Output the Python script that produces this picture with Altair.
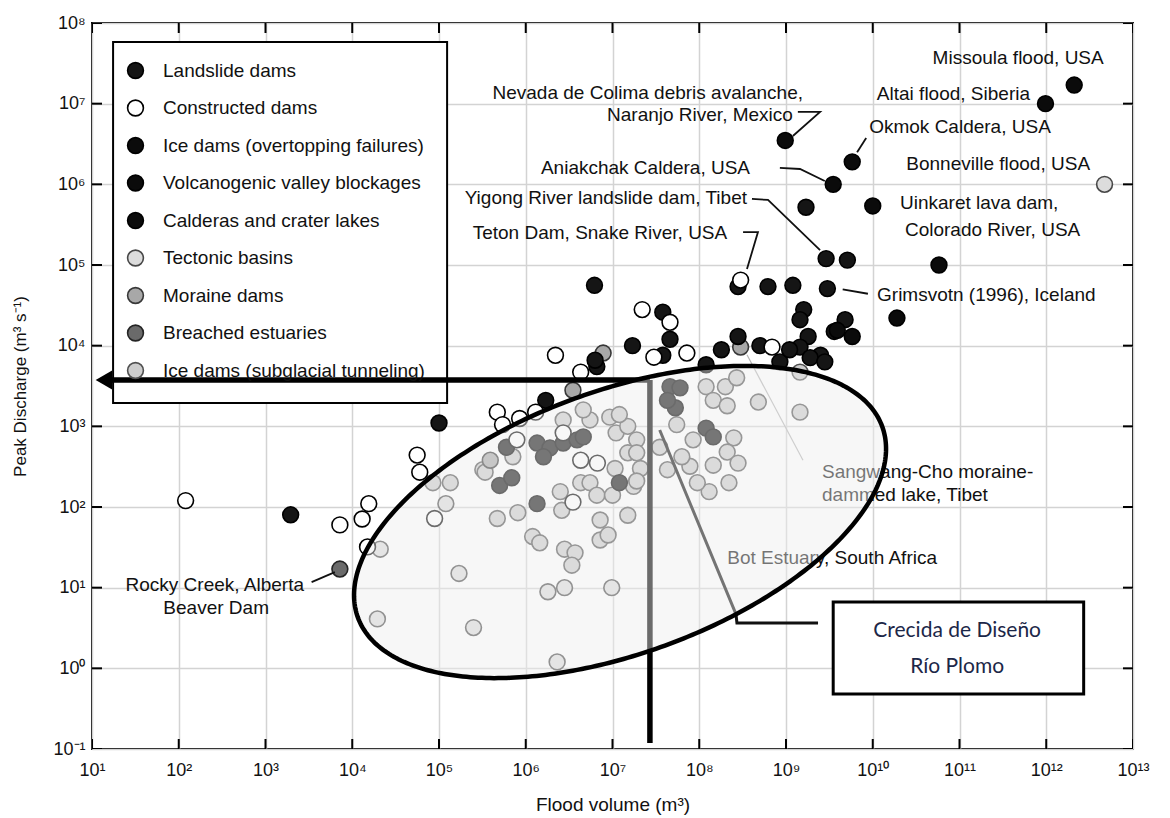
import numpy as np
import pandas as pd
import altair as alt

FONT = "Liberation Sans"
W, H = 1041, 726
XMIN, XMAX = 1e1, 1e13
YMIN, YMAX = 1e-1, 1e8
PXX, PXY = W / 12.0, H / 9.0   # pixels per decade

# ---------------- tick exponents ----------------
X_EXP = list(range(1, 14))
Y_EXP = list(range(-1, 9))
X_TICKS = [10.0 ** k for k in X_EXP]
Y_TICKS = [10.0 ** k for k in Y_EXP]

# ---------------- categories ----------------
CATEGORIES = ["Landslide dams", "Constructed dams", "Ice dams (overtopping failures)",
              "Volcanogenic valley blockages", "Calderas and crater lakes", "Tectonic basins",
              "Moraine dams", "Breached estuaries", "Ice dams (subglacial tunneling)"]
FILLS = ["#151515", "#ffffff", "#0b0b0b", "#0b0b0b", "#0b0b0b", "#dcdcdc", "#a8a8a8", "#6a6a6a", "#cdcdcd"]
STROKES = ["#000000", "#000000", "#000000", "#000000", "#000000", "#474747", "#383838", "#242424", "#505050"]

# ---------------- data (flood volume m3, peak discharge m3/s) ----------------
SUBGLACIAL_VOL = [1.35e5, 8.5e4, 3.2e5, 4.7e5, 8.1e5, 1.2e6, 1.45e6, 2.8e6, 3.7e6, 3.4e6, 7.2e6, 7.2e6,
                  8.9e6, 1.5e7, 2.5e6, 2.6e6, 4.3e6, 5.5e6, 6.6e6, 1.0e7, 1.75e7, 1.07e7, 1.5e7, 2.1e7,
                  3.4e5, 7.1e5, 5.5e6, 9.3e6, 1.1e7, 1.5e7, 1.9e7, 2.7e6, 4.6e6, 1.2e8, 2.0e8, 2.7e8,
                  1.45e8, 2.1e8, 4.8e8, 1.45e9, 2.5e8, 2.1e8, 1.45e8, 2.8e8, 2.2e8, 1.3e8, 7.8e7, 8.5e7,
                  5.5e7, 3.5e7, 1.9e7, 1.2e7, 1.9e7, 4.3e7, 6.3e7, 9.5e7, 1.45e9]
SUBGLACIAL_Q = [2.0e2, 2.0e2, 2.9e2, 72, 85, 43, 36, 30, 27, 19, 69, 39,
                45, 79, 1.55e2, 91, 2.0e2, 2.0e2, 1.4e2, 1.4e2, 1.8e2, 3.0e2, 4.7e2, 3.0e2,
                2.7e2, 4.2e2, 1.2e3, 1.3e3, 8.3e2, 1.0e3, 6.8e2, 1.2e3, 1.6e3, 3.1e3, 3.1e3, 4.0e3,
                2.1e3, 1.8e3, 2.0e3, 1.5e3, 7.2e2, 4.8e2, 3.3e2, 3.5e2, 2.0e2, 1.55e2, 3.2e2, 6.8e2,
                1.05e3, 5.5e2, 4.7e2, 1.4e3, 2.1e2, 2.9e2, 4.2e2, 2.0e2, 4.7e3]
TECTONIC_VOL = [4.7e12, 2.1e4, 1.2e5, 1.7e5, 1.95e4, 2.5e5, 2.3e6, 1.8e6, 2.8e6, 9.8e6]
TECTONIC_Q = [1.0e6, 30, 1.1e2, 15, 4.1, 3.2, 1.2, 8.9, 10, 10]
MORAINE_VOL = [7.8e6, 3.5e6, 3.9e5, 3.0e8]
MORAINE_Q = [8.1e3, 2.8e3, 3.8e2, 9.6e3]
ESTUARY_VOL = [7.2e3]
ESTUARY_Q = [17]
LANDSLIDE_VOL = [1.7e9, 2.9e9, 5.1e9, 2.8e8, 6.2e8, 1.2e9, 3.0e9, 6.2e6, 3.8e7, 1.6e9, 1.45e9, 4.8e9,
                 3.6e9, 1.8e9, 2.8e8, 4.6e7, 1.7e7, 1.8e8, 5.0e8, 3.8e7, 1.2e8, 8.5e8, 1.45e9, 2.5e9,
                 1.1e9, 1.9e9, 2.8e9, 1.7e6, 6.6e6, 6.3e6, 1.0e5, 1.95e3, 1.35e6, 1.2e7, 5.0e5, 6.9e5,
                 1.35e6, 1.9e6, 2.7e6, 3.9e6, 4.6e6, 1.6e6, 6.0e5, 4.6e7, 6.0e7, 5.3e7, 4.3e7, 1.2e8,
                 1.45e8]
LANDSLIDE_Q = [5.2e5, 1.2e5, 1.15e5, 5.4e4, 5.4e4, 5.6e4, 5.1e4, 5.6e4, 2.6e4, 2.8e4, 2.1e4, 2.1e4,
               1.5e4, 1.3e4, 1.3e4, 1.2e4, 1.0e4, 8.9e3, 1.0e4, 7.6e3, 5.8e3, 6.3e3, 9.6e3, 7.6e3,
               8.9e3, 7.1e3, 6.3e3, 2.1e3, 5.5e3, 6.6e3, 1.1e3, 80, 1.1e2, 2.0e2, 1.85e2, 2.3e2,
               6.2e2, 5.4e2, 6.2e2, 6.8e2, 7.4e2, 4.2e2, 5.5e2, 3.1e3, 3.0e3, 1.7e3, 2.1e3, 9.5e2,
               7.4e2]
ICE_OVER_VOL = [2.1e12, 9.8e11, 1.9e10, 5.8e10, 5.8e9, 3.9e9]
ICE_OVER_Q = [1.7e7, 1.0e7, 2.2e4, 1.0e5, 1.3e4, 1.55e4]
VOLCANO_VOL = [9.8e8, 1.0e10]
VOLCANO_Q = [3.5e6, 5.4e5]
CALDERA_VOL = [5.8e9, 3.5e9]
CALDERA_Q = [1.9e6, 1.0e6]
CONSTRUCTED_VOL = [3.0e8, 2.2e7, 4.6e7, 6.9e8, 2.2e6, 7.2e7, 3.0e7, 4.3e6, 4.7e5, 5.4e5, 8.5e5, 1.3e6,
                   5.6e4, 6.0e4, 1.2e2, 7.2e3, 1.3e4, 1.55e4, 1.5e4, 8.9e4, 3.5e6, 6.7e6, 7.9e5, 2.7e6,
                   4.3e6]
CONSTRUCTED_Q = [6.5e4, 2.8e4, 1.95e4, 9.6e3, 7.6e3, 8.1e3, 7.2e3, 4.7e3, 1.5e3, 1.05e3, 1.25e3, 1.5e3,
                 4.4e2, 2.7e2, 1.2e2, 60, 71, 1.1e2, 32, 72, 1.15e2, 3.5e2, 6.8e2, 8.3e2,
                 3.8e2]

SERIES = [  # drawing order
    ("Ice dams (subglacial tunneling)", SUBGLACIAL_VOL, SUBGLACIAL_Q),
    ("Tectonic basins", TECTONIC_VOL, TECTONIC_Q),
    ("Moraine dams", MORAINE_VOL, MORAINE_Q),
    ("Breached estuaries", ESTUARY_VOL, ESTUARY_Q),
    ("Landslide dams", LANDSLIDE_VOL, LANDSLIDE_Q),
    ("Ice dams (overtopping failures)", ICE_OVER_VOL, ICE_OVER_Q),
    ("Volcanogenic valley blockages", VOLCANO_VOL, VOLCANO_Q),
    ("Calderas and crater lakes", CALDERA_VOL, CALDERA_Q),
    ("Constructed dams", CONSTRUCTED_VOL, CONSTRUCTED_Q),
]

# ---------------- annotations ----------------
TEXT_LEFT = [("Missoula flood, USA", 4.9e10, 3.7e7), ("Okmok Caldera, USA", 9.1e9, 5.1e6),
             ("Uinkaret lava dam,", 2.06e10, 5.9e5), ("Colorado River, USA", 2.35e10, 2.7e5),
             ("Grimsvotn (1996), Iceland", 1.12e10, 4.2e4), ("Sangwang-Cho moraine-", 2.6e9, 2.7e2),
             ("dammed lake, Tibet", 2.6e9, 1.4e2), ("Bot Estuary, South Africa", 2.1e8, 23)]
TEXT_RIGHT = [("Altai flood, Siberia", 6.5e11, 1.32e7), ("Bonneville flood, USA", 3.2e12, 1.79e6),
              ("Nevada de Colima debris avalanche,", 1.57e9, 1.36e7), ("Naranjo River, Mexico", 1.2e9, 7.2e6),
              ("Aniakchak Caldera, USA", 3.85e8, 1.6e6), ("Yigong River landslide dam, Tibet", 3.55e8, 6.8e5),
              ("Teton Dam, Snake River, USA", 2.1e8, 2.5e5)]
TEXT_CENTER = [("Rocky Creek, Alberta", 2.6e2, 10.8), ("Beaver Dam", 2.7e2, 5.6)]
BOX_TEXT = [("Crecida de Diseño", 9.4e10, 2.9), ("Río Plomo", 9.4e10, 1.04)]

LEADERS = {  # id -> list of (vol, q)
    "colima": [(1.37e9, 7.9e6), (2.47e9, 7.9e6), (1.2e9, 3.97e6)],
    "okmok": [(8.4e9, 3.75e6), (6.6e9, 2.5e6)],
    "aniakchak": [(8.5e8, 1.6e6), (1.45e9, 1.55e6), (2.8e9, 1.1e6)],
    "yigong": [(4.05e8, 6.6e5), (6.2e8, 6.4e5), (2.47e9, 1.53e5)],
    "teton": [(3.2e8, 2.56e5), (4.75e8, 2.56e5), (3.55e8, 8.9e4)],
    "grimsvotn": [(4.5e9, 5.0e4), (8.8e9, 4.4e4)],
    "rocky": [(3.4e3, 11.7), (6.3e3, 15.6)],
}
BOT_LEADER = [(3.5e7, 9.0e2), (2.65e8, 4.7), (2.72e8, 3.65), (2.34e9, 3.65)]
SANGWANG_LEADER = [(3.55e8, 7.7e3), (1.57e9, 3.8e2)]

DESIGN_VOL = 2.7e7          # vertical design line
DESIGN_Q = 3.76e3           # horizontal arrow
DESIGN_LINES = {"vertical": [(DESIGN_VOL, DESIGN_Q), (DESIGN_VOL, 0.119)],
                "horizontal": [(DESIGN_VOL, DESIGN_Q), (16.0, DESIGN_Q)]}
ARROW_HEAD = (13.7, DESIGN_Q)

BOX = (3.5e9, 2.7e12, 6.65, 0.48)
LEGEND_BOX = (17.5, 1.24e5, 5.8e7, 1.95e3)

# envelope ellipse (log10 centre, semi-axes in plot pixels, tilt degrees)
E_CX, E_CY = 7.087, 1.814
E_A, E_B = 279.0, 131.5
E_TILT = 20.0

# ---------------- helpers ----------------
SUP = {"-": "⁻", "0": "⁰", "1": "¹", "2": "²", "3": "³", "4": "⁴",
       "5": "⁵", "6": "⁶", "7": "⁷", "8": "⁸", "9": "⁹"}


def sup(n):
    return "".join(SUP[c] for c in str(n))


def label_expr(exps):
    expr = f"'10{sup(exps[-1])}'"
    for k in reversed(exps[:-1]):
        expr = f"(datum.value < {10 ** (k + 0.5):.6g} ? '10{sup(k)}' : {expr})"
    return expr


XSCALE = alt.Scale(type="log", domain=[XMIN, XMAX], nice=False)
YSCALE = alt.Scale(type="log", domain=[YMIN, YMAX], nice=False)
XAXIS = alt.Axis(values=X_TICKS, labelExpr=label_expr(X_EXP), grid=True, gridColor="#d3d3d3",
                 gridWidth=1.5, ticks=False, domain=False, labelFont=FONT, labelFontSize=18,
                 labelColor="#111111", labelPadding=12, labelFlush=False, labelOverlap=False,
                 title="Flood volume (m³)", titleFont=FONT, titleFontSize=19, titleFontWeight="normal",
                 titleColor="#111111", titleX=W / 2, titleY=55, titleBaseline="middle")
YAXIS = alt.Axis(values=Y_TICKS, labelExpr=label_expr(Y_EXP), grid=True, gridColor="#d3d3d3",
                 gridWidth=1.5, ticks=False, domain=False, labelFont=FONT, labelFontSize=18,
                 labelColor="#111111", labelPadding=7, labelFlush=False, labelOverlap=False,
                 title="Peak Discharge (m³ s⁻¹)", titleFont=FONT, titleFontSize=17,
                 titleFontWeight="normal", titleColor="#111111", titleX=-72, titleY=H / 2,
                 titleBaseline="middle", titleAngle=-90)


def X(f):
    return alt.X(f"{f}:Q", scale=XSCALE, axis=XAXIS)


def Y(f):
    return alt.Y(f"{f}:Q", scale=YSCALE, axis=YAXIS)


def poly_df(d):
    rows = []
    for k, pts in d.items():
        for i, (a, b) in enumerate(pts):
            rows.append({"id": k, "ord": i, "vol": a, "q": b})
    return pd.DataFrame(rows)


# ---------------- layers ----------------
layers = []

# inside ticks on all four spines
xt = pd.DataFrame({"vol": X_TICKS * 2, "q": [YMIN] * len(X_TICKS) + [YMAX] * len(X_TICKS)})
yt = pd.DataFrame({"vol": [XMIN] * len(Y_TICKS) + [XMAX] * len(Y_TICKS), "q": Y_TICKS * 2})
layers.append(alt.Chart(xt).mark_tick(orient="vertical", size=20, thickness=2, color="black",
                                      clip=True, opacity=1).encode(x=X("vol"), y=Y("q")))
layers.append(alt.Chart(yt).mark_tick(orient="horizontal", size=20, thickness=2, color="black",
                                      clip=True, opacity=1).encode(x=X("vol"), y=Y("q")))

# legend box
lb = pd.DataFrame([{"x1": LEGEND_BOX[0], "x2": LEGEND_BOX[1], "y1": LEGEND_BOX[2], "y2": LEGEND_BOX[3]}])
layers.append(alt.Chart(lb).mark_rect(fill="white", stroke="black", strokeWidth=2).encode(
    x=X("x1"), x2="x2:Q", y=Y("y1"), y2="y2:Q"))

# points
prow = []
for cat, vols, qs in SERIES:
    for v, q in zip(vols, qs):
        prow.append({"vol": v, "q": q, "cat": cat})
pts = pd.DataFrame(prow)
LEG = alt.Legend(orient="none", legendX=34, legendY=38, direction="vertical", title=None,
                 symbolType="circle", symbolSize=250, symbolStrokeWidth=1.6, labelFont=FONT,
                 labelFontSize=19, labelColor="#111111", labelOffset=18, rowPadding=14.5,
                 labelLimit=400, padding=0)
layers.append(alt.Chart(pts).mark_point(filled=True, shape="circle", size=250, strokeWidth=1.6,
                                        opacity=1).encode(
    x=X("vol"), y=Y("q"),
    fill=alt.Fill("cat:N", scale=alt.Scale(domain=CATEGORIES, range=FILLS), legend=LEG),
    stroke=alt.Stroke("cat:N", scale=alt.Scale(domain=CATEGORIES, range=STROKES), legend=LEG)))

# leader lines
layers.append(alt.Chart(poly_df(LEADERS)).mark_line(color="#111111", strokeWidth=1.8).encode(
    x=X("vol"), y=Y("q"), detail="id:N", order="ord:Q"))
layers.append(alt.Chart(poly_df({"s": SANGWANG_LEADER})).mark_line(color="#b5b5b5", strokeWidth=1.2).encode(
    x=X("vol"), y=Y("q"), detail="id:N", order="ord:Q"))
layers.append(alt.Chart(poly_df({"b": BOT_LEADER})).mark_line(color="#111111", strokeWidth=3).encode(
    x=X("vol"), y=Y("q"), detail="id:N", order="ord:Q"))

# texts
for items, align in [(TEXT_LEFT, "left"), (TEXT_RIGHT, "right"), (TEXT_CENTER, "center")]:
    tdf = pd.DataFrame([{"t": t, "vol": a, "q": b} for t, a, b in items])
    layers.append(alt.Chart(tdf).mark_text(font=FONT, fontSize=19, color="#111111", align=align,
                                           baseline="middle").encode(x=X("vol"), y=Y("q"), text="t:N"))

# design flood lines and arrow
layers.append(alt.Chart(poly_df(DESIGN_LINES)).mark_line(color="black", strokeWidth=5.5).encode(
    x=X("vol"), y=Y("q"), detail="id:N", order="ord:Q"))
ah = pd.DataFrame([{"vol": ARROW_HEAD[0], "q": ARROW_HEAD[1]}])
layers.append(alt.Chart(ah).mark_point(shape="triangle-left", filled=True, size=360, color="black",
                                       opacity=1).encode(x=X("vol"), y=Y("q")))

# envelope ellipse
th = np.radians(E_TILT)
c, s = np.cos(th), np.sin(th)
halfw = np.sqrt((E_A * c) ** 2 + (E_B * s) ** 2)
u = -halfw * np.cos(np.linspace(0, np.pi, 301))
A = s ** 2 / E_A ** 2 + c ** 2 / E_B ** 2
B = 2 * u * s * c * (1 / E_A ** 2 - 1 / E_B ** 2)
C = u ** 2 * (c ** 2 / E_A ** 2 + s ** 2 / E_B ** 2) - 1
disc = np.sqrt(np.clip(B ** 2 - 4 * A * C, 0, None))
vt = (-B + disc) / (2 * A)
vb = (-B - disc) / (2 * A)
area_df = pd.DataFrame({"vol": 10 ** (E_CX + u / PXX), "top": 10 ** (E_CY + vt / PXY),
                        "bot": 10 ** (E_CY + vb / PXY)})
layers.append(alt.Chart(area_df).mark_area(color="#eeeeee", opacity=0.45).encode(
    x=X("vol"), y=Y("top"), y2="bot:Q"))
t = np.linspace(0, 2 * np.pi, 361)
eu = E_A * c * np.cos(t) - E_B * s * np.sin(t)
ev = E_A * s * np.cos(t) + E_B * c * np.sin(t)
ring = pd.DataFrame({"ord": np.arange(len(t)), "vol": 10 ** (E_CX + eu / PXX), "q": 10 ** (E_CY + ev / PXY)})
layers.append(alt.Chart(ring).mark_line(color="black", strokeWidth=4.5).encode(
    x=X("vol"), y=Y("q"), order="ord:Q"))

# design flood box
bx = pd.DataFrame([{"x1": BOX[0], "x2": BOX[1], "y1": BOX[2], "y2": BOX[3]}])
layers.append(alt.Chart(bx).mark_rect(fill="white", stroke="black", strokeWidth=3).encode(
    x=X("x1"), x2="x2:Q", y=Y("y1"), y2="y2:Q"))
btdf = pd.DataFrame([{"t": t_, "vol": a, "q": b} for t_, a, b in BOX_TEXT])
layers.append(alt.Chart(btdf).mark_text(font="Lato", fontSize=21, color="#1c2748", align="center",
                                        baseline="middle").encode(x=X("vol"), y=Y("q"), text="t:N"))

chart = alt.layer(*layers).properties(
    width=W, height=H,
    padding={"left": 84, "top": 15, "right": 20, "bottom": 67},
    autosize=alt.AutoSizeParams(type="none"),
).configure(font=FONT).configure_view(stroke="black", strokeWidth=2)

chart.save("out.html", embed_options={"renderer": "svg", "actions": False})
